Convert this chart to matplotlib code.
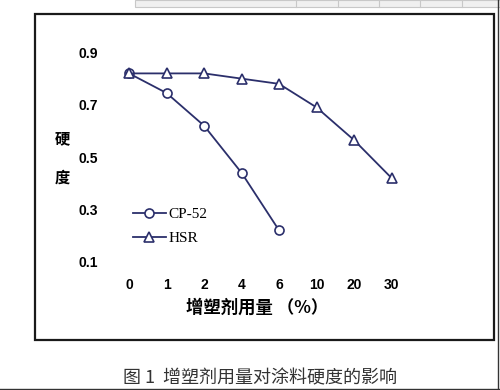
import matplotlib
matplotlib.use('Agg')
import matplotlib.pyplot as plt
from matplotlib.patches import Rectangle

plt.rcParams['font.family'] = ['Liberation Sans', 'Noto Sans CJK SC', 'DejaVu Sans']

# data
categories = ['0', '1', '2', '4', '6', '10', '20', '30']
cp52 = [0.82, 0.745, 0.62, 0.44, 0.22]
hsr = [0.82, 0.82, 0.82, 0.80, 0.78, 0.69, 0.565, 0.42]
yticks = [0.1, 0.3, 0.5, 0.7, 0.9]

navy = '#2b2f6b'
cjk = ['Noto Sans CJK SC', 'DejaVu Sans']

fig = plt.figure(figsize=(5, 3.9), dpi=100)
W, H = 500, 390

def fx(px):
    return px / W

def fy(py):
    return 1 - py / H

# outer frame of the chart
fig.patches.append(Rectangle((fx(35), fy(340)), fx(494) - fx(35), fy(13.5) - fy(340),
                             transform=fig.transFigure, fill=False,
                             edgecolor='#1a1a1a', lw=1.6))
# bits of page chrome at the top / borders
fig.patches.append(Rectangle((fx(135), fy(7)), fx(500) - fx(135), fy(0) - fy(7),
                             transform=fig.transFigure, facecolor='#f0f0f0',
                             edgecolor='#c8c8c8', lw=0.8))
for px in [296, 338, 379, 420, 462]:
    fig.lines.append(plt.Line2D([fx(px), fx(px)], [fy(7), fy(0)],
                                transform=fig.transFigure, color='#c8c8c8', lw=0.8))
fig.lines.append(plt.Line2D([fx(498), fx(498)], [0, 1], transform=fig.transFigure,
                            color='#333333', lw=1.0))
fig.lines.append(plt.Line2D([0, 1], [fy(389.3), fy(389.3)], transform=fig.transFigure,
                            color='#333333', lw=1.0))

ax = fig.add_axes([fx(110.3), fy(274.8), 300 / W, 235.4 / H])
x = list(range(len(categories)))

ax.plot(x[:len(cp52)], cp52, color=navy, lw=1.3, marker='o', ms=6.5,
        mfc='white', mec=navy, mew=1.2, label='CP-52')
ax.plot(x, hsr, color=navy, lw=1.3, marker='^', ms=7.5,
        mfc='white', mec=navy, mew=1.2, label='HSR')

ax.set_xlim(-0.5, 7.5)
ax.set_ylim(0.05, 0.95)
ax.set_xticks(x)
ax.set_xticklabels(categories)
ax.set_yticks(yticks)
ax.set_yticklabels(['%.1f' % v for v in yticks])
for lab in ax.get_xticklabels() + ax.get_yticklabels():
    lab.set_fontweight('bold')
    lab.set_fontsize(10)
ax.tick_params(axis='both', length=0)
ax.tick_params(axis='y', pad=9)
ax.tick_params(axis='x', pad=2)
for s in ax.spines.values():
    s.set_visible(False)
ax.patch.set_visible(False)

ax.legend(loc='upper left', bbox_to_anchor=(0.055, 0.313), frameon=False,
          prop={'family': 'Liberation Serif', 'size': 11},
          handlelength=2.15, handletextpad=0.2, labelspacing=0.71, borderaxespad=0)

fig.text(fx(62), fy(158), '硬\n\n度', ha='center', va='center', fontsize=11,
         fontweight='bold', family=cjk, linespacing=1.3)
fig.text(fx(257), fy(308), '增塑剂用量 （%）', ha='center', va='center',
         fontsize=12.5, fontweight='bold', family=cjk)
fig.text(fx(123), fy(378), '图 1  增塑剂用量对涂料硬度的影响', ha='left', va='center',
         fontsize=13, color='#333333', family=cjk)

fig.savefig('out.png', dpi=100)
